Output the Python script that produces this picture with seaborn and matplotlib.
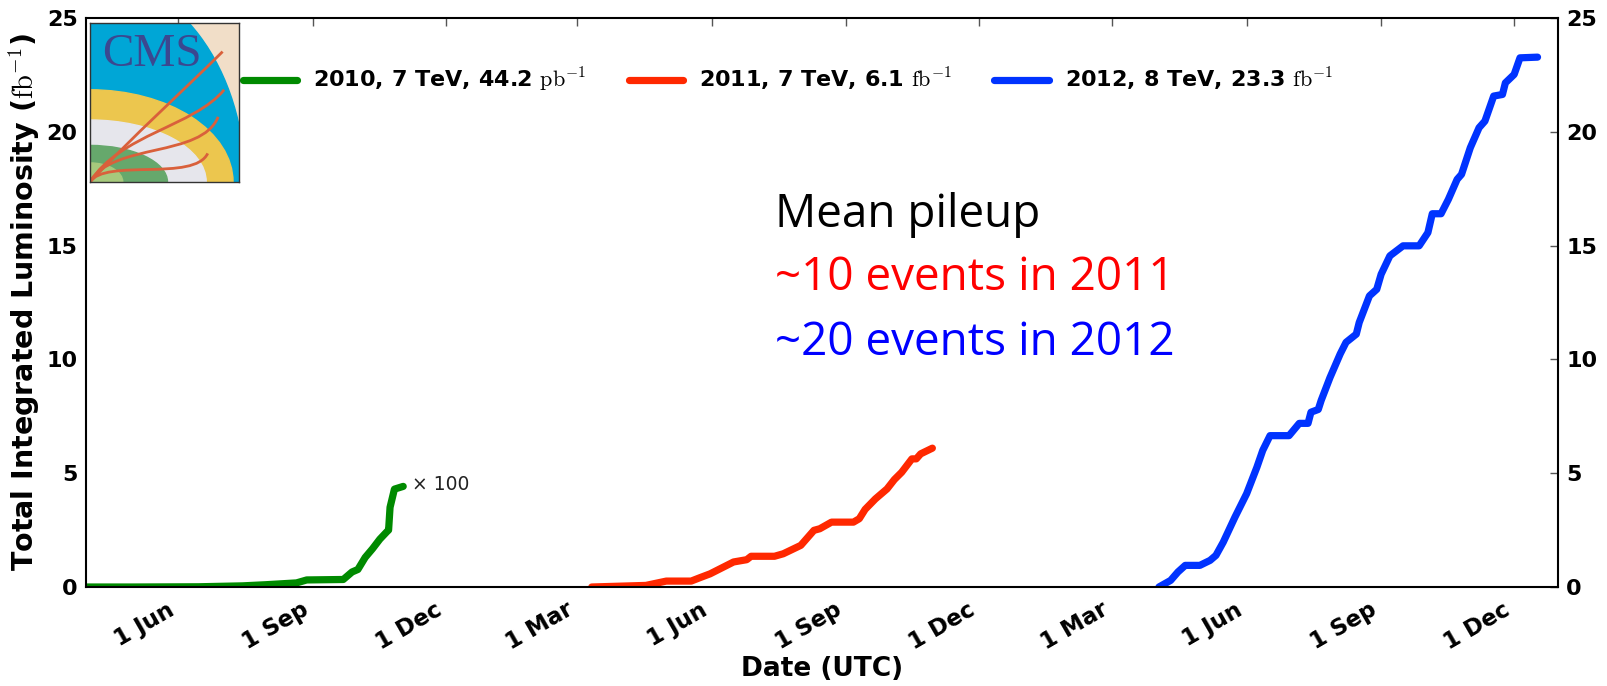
import matplotlib
matplotlib.use("Agg")
import matplotlib.pyplot as plt
from matplotlib.patches import Ellipse, PathPatch, Rectangle
from matplotlib.path import Path
import seaborn as sns
import pandas as pd

# ---------------- data ----------------
dates_2010 = ['2010-03-30', '2010-05-01', '2010-06-15', '2010-07-15', '2010-07-31',
              '2010-08-21', '2010-08-28', '2010-09-22', '2010-09-28', '2010-10-02',
              '2010-10-07', '2010-10-12', '2010-10-17', '2010-10-22', '2010-10-23',
              '2010-10-24', '2010-10-27', '2010-11-02']
lumi_2010 = [0.0, 0.0, 0.01, 0.05, 0.10, 0.18, 0.31, 0.33, 0.66, 0.77,
             1.30, 1.68, 2.10, 2.44, 2.50, 3.50, 4.30, 4.42]   # x100

dates_2011 = ['2011-03-11', '2011-04-17', '2011-05-01', '2011-05-18', '2011-05-24',
              '2011-05-31', '2011-06-16', '2011-06-25', '2011-06-28', '2011-07-14',
              '2011-07-20', '2011-08-01', '2011-08-10', '2011-08-14', '2011-08-22',
              '2011-09-06', '2011-09-10', '2011-09-14', '2011-09-21', '2011-09-29',
              '2011-10-04', '2011-10-09', '2011-10-16', '2011-10-19', '2011-10-22',
              '2011-10-30']
lumi_2011 = [0.0, 0.07, 0.26, 0.26, 0.41, 0.58, 1.10, 1.20, 1.35, 1.35,
             1.46, 1.83, 2.49, 2.56, 2.85, 2.85, 3.00, 3.41, 3.87, 4.31,
             4.72, 5.04, 5.63, 5.63, 5.85, 6.10]

dates_2012 = ['2012-04-02', '2012-04-10', '2012-04-15', '2012-04-20', '2012-04-30',
              '2012-05-07', '2012-05-11', '2012-05-16', '2012-05-24', '2012-06-01',
              '2012-06-08', '2012-06-12', '2012-06-17', '2012-06-30', '2012-07-07',
              '2012-07-13', '2012-07-15', '2012-07-20', '2012-07-22', '2012-07-28',
              '2012-08-04', '2012-08-08', '2012-08-15', '2012-08-17', '2012-08-24',
              '2012-08-29', '2012-09-01', '2012-09-07', '2012-09-16', '2012-09-27',
              '2012-10-03', '2012-10-06', '2012-10-12', '2012-10-17', '2012-10-23',
              '2012-10-26', '2012-11-01', '2012-11-07', '2012-11-11', '2012-11-17',
              '2012-11-23', '2012-11-25', '2012-12-01', '2012-12-05', '2012-12-17']
lumi_2012 = [0.0, 0.29, 0.66, 0.95, 0.95, 1.17, 1.39, 1.97, 3.07, 4.10,
             5.26, 6.00, 6.65, 6.65, 7.19, 7.19, 7.68, 7.80, 8.20, 9.20,
             10.24, 10.75, 11.11, 11.62, 12.79, 13.08, 13.74, 14.55, 14.99, 14.99,
             15.57, 16.40, 16.40, 17.03, 17.91, 18.13, 19.30, 20.18, 20.47, 21.57,
             21.64, 22.15, 22.52, 23.25, 23.28]

series_labels = [r'2010, 7 TeV, 44.2 $\mathrm{pb}^{-1}$',
                 r'2011, 7 TeV, 6.1 $\mathrm{fb}^{-1}$',
                 r'2012, 8 TeV, 23.3 $\mathrm{fb}^{-1}$']
series_colors = ['#008a00', '#ff2800', '#0033ff']

tick_dates = ['2010-06-01', '2010-09-01', '2010-12-01', '2011-03-01', '2011-06-01',
              '2011-09-01', '2011-12-01', '2012-03-01', '2012-06-01', '2012-09-01',
              '2012-12-01']
tick_labels = ['1 Jun', '1 Sep', '1 Dec', '1 Mar', '1 Jun', '1 Sep', '1 Dec',
               '1 Mar', '1 Jun', '1 Sep', '1 Dec']
yticks = [0, 5, 10, 15, 20, 25]

x_start, x_end = '2010-03-30', '2012-12-31'

# ---------------- build frame ----------------
frames = []
for d, v, lab in zip([dates_2010, dates_2011, dates_2012],
                     [lumi_2010, lumi_2011, lumi_2012], series_labels):
    frames.append(pd.DataFrame({'date': pd.to_datetime(d), 'lumi': v, 'series': lab}))
df = pd.concat(frames, ignore_index=True)

sns.set_style('white')
plt.rcParams['font.family'] = ['DejaVu Sans']
plt.rcParams['mathtext.fontset'] = 'cm'
for k in ['text.color', 'axes.labelcolor', 'xtick.labelcolor', 'ytick.labelcolor']:
    plt.rcParams[k] = 'black'

fig = plt.figure(figsize=(16.08, 6.86), dpi=100)
ax = fig.add_axes([86 / 1608, 1 - 587 / 686, (1558 - 86) / 1608, (587 - 18) / 686])

sns.lineplot(data=df, x='date', y='lumi', hue='series', hue_order=series_labels,
             palette=series_colors, estimator=None, linewidth=5.2, ax=ax, legend=True)

ax.set_xlim(pd.Timestamp(x_start), pd.Timestamp(x_end))
ax.set_ylim(0, 25)
ax.set_xticks(pd.to_datetime(tick_dates))
ax.set_xticklabels(tick_labels, rotation=30, ha='right',
                   fontsize=16.5, fontweight='bold')
ax.set_yticks(yticks)
ax.set_yticklabels([str(t) for t in yticks], fontsize=16, fontweight='bold')
ax.tick_params(axis='both', direction='in', length=6, width=1, color='#555555',
               top=True, right=True, labelright=True, pad=6,
               labelcolor='black')
ax.tick_params(axis='x', pad=8)
for t in ax.yaxis.get_major_ticks():
    t.label2.set_fontweight('bold')
    t.label2.set_fontsize(16)
for s in ax.spines.values():
    s.set_linewidth(1.5)
    s.set_color('black')

ax.set_xlabel('Date (UTC)', fontsize=19, fontweight='bold', labelpad=1)
ax.set_ylabel(r'Total Integrated Luminosity ($\mathrm{fb}^{-1}$)', fontsize=20.5,
              fontweight='bold', labelpad=3)

# legend
handles, labels = ax.get_legend_handles_labels()
leg = ax.legend(handles, labels, ncol=3, frameon=False, loc='center left',
                bbox_to_anchor=(243 / 1608, 1 - 80 / 686), bbox_transform=fig.transFigure,
                borderpad=0, borderaxespad=0, handlelength=2.45, handletextpad=0.72,
                columnspacing=1.9, prop={'size': 16, 'weight': 'bold'})
for h in leg.get_lines():
    h.set_linewidth(5.2)

# x100 annotation
ax.text(pd.Timestamp('2010-11-08'), 4.5, '× 100', fontsize=13.5, color='#222222',
        va='center', ha='left')

# pileup text
fig.text(775 / 1608, 1 - 227 / 686, 'Mean pileup', family='Open Sans', fontsize=33,
         color='black', va='baseline')
fig.text(775 / 1608, 1 - 290 / 686, '~10 events in 2011', family='Open Sans',
         fontsize=33, color='#ff0000', va='baseline')
fig.text(775 / 1608, 1 - 355 / 686, '~20 events in 2012', family='Open Sans',
         fontsize=33, color='#0000ff', va='baseline')

# ---------------- CMS logo ----------------
lax = fig.add_axes([90 / 1608, 1 - 182 / 686, 149 / 1608, 159 / 686])
lax.set_xlim(0, 1)
lax.set_ylim(0, 1)
lax.set_xticks([])
lax.set_yticks([])
lax.add_patch(Rectangle((0, 0), 1, 1, color='#f1dec8', zorder=0))
for a, b, c in [(1.04, 1.30, '#00a6d6'), (0.96, 0.58, '#ecc64e'),
                (0.78, 0.39, '#e6e6ec'), (0.52, 0.23, '#66a86c'),
                (0.22, 0.12, '#a6c97c')]:
    lax.add_patch(Ellipse((0, 0), 2 * a, 2 * b, color=c, zorder=1))
tracks = [[(0, 0), (0.3, 0.3), (0.6, 0.55), (0.89, 0.82)],
          [(0, 0), (0.2, 0.3), (0.7, 0.35), (0.90, 0.58)],
          [(0, 0), (0.15, 0.25), (0.75, 0.15), (0.86, 0.41)],
          [(0, 0), (0.1, 0.15), (0.7, 0.0), (0.79, 0.18)]]
for tr in tracks:
    p = Path(tr, [Path.MOVETO, Path.CURVE4, Path.CURVE4, Path.CURVE4])
    lax.add_patch(PathPatch(p, fill=False, edgecolor='#d9603b', lw=2.0, zorder=2))
lax.text(0.08, 0.80, 'CMS', family='Liberation Serif', fontsize=34, color='#3b4890',
         va='center', ha='left', zorder=3)
for s in lax.spines.values():
    s.set_linewidth(1.0)
    s.set_color('#333333')

fig.savefig('out.png', dpi=100)
